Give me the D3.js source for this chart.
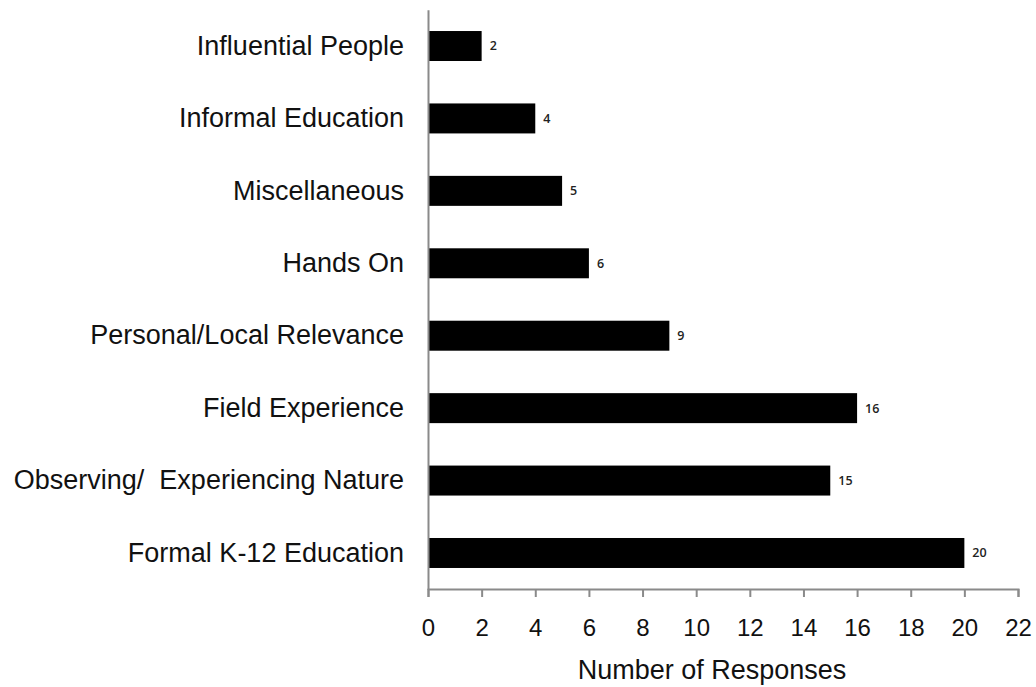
<!DOCTYPE html>
<html>
<head>
<meta charset="utf-8">
<script src="https://cdn.jsdelivr.net/npm/d3@7"></script>
<style>
  body { margin: 0; background: #fff; }
  .catLabel { font-family: "Liberation Sans", Arial, sans-serif; font-size: 27px; fill: #111; white-space: pre; }
  .tickLabel { font-family: "Liberation Sans", Arial, sans-serif; font-size: 24px; fill: #111; }
  .valLabel { font-family: "Open Sans", sans-serif; font-size: 12.5px; font-weight: 600; fill: #222; }
</style>
</head>
<body>
<script>
var categories = [
  "Influential People",
  "Informal Education",
  "Miscellaneous",
  "Hands On",
  "Personal/Local Relevance",
  "Field Experience",
  "Observing/  Experiencing Nature",
  "Formal K-12 Education",
];
var responses = [2, 4, 5, 6, 9, 16, 15, 20];
var xTicks = [0, 2, 4, 6, 8, 10, 12, 14, 16, 18, 20, 22];
var xTitle = "Number of Responses";

var width = 1036,
  height = 687;

var svg = d3
  .select("body")
  .append("svg")
  .attr("width", width)
  .attr("height", height);

var x = d3.scaleLinear().domain([0, 22]).range([428, 1018]);

var y = d3
  .scaleBand()
  .domain(categories)
  .range([9.8, 589.2])
  .paddingInner(0.586)
  .paddingOuter(0.293);

// bars
svg
  .selectAll(".bar")
  .data(categories)
  .enter()
  .append("rect")
  .attr("class", "bar")
  .attr("x", x(0))
  .attr("y", (d) => y(d))
  .attr("width", (d, i) => x(responses[i]) - x(0))
  .attr("height", y.bandwidth())
  .attr("fill", "#000");

// value labels
svg
  .selectAll(".valLabel")
  .data(categories)
  .enter()
  .append("text")
  .attr("class", "valLabel")
  .attr("x", (d, i) => x(responses[i]) + 8)
  .attr("y", (d) => y(d) + y.bandwidth() / 2)
  .attr("dy", "0.35em")
  .text((d, i) => responses[i]);

// bottom axis
var xAxis = d3
  .axisBottom(x)
  .tickValues(xTicks)
  .tickSize(8)
  .tickSizeOuter(8)
  .tickPadding(22);

var gx = svg
  .append("g")
  .attr("transform", "translate(0," + 589 + ")")
  .call(xAxis);
gx.selectAll("path, line").attr("stroke", "#8a8a8a").attr("stroke-width", 2);
gx.selectAll("text")
  .attr("class", "tickLabel")
  .attr("font-size", null)
  .attr("font-family", null)
  .attr("fill", null);

// left axis
var yAxis = d3.axisLeft(y).tickSize(0).tickSizeOuter(0).tickPadding(24);
var gy = svg
  .append("g")
  .attr("transform", "translate(" + 428 + ",0)")
  .call(yAxis);
gy.select(".domain").attr("stroke", "#8a8a8a").attr("stroke-width", 2);
gy.selectAll("text")
  .attr("class", "catLabel")
  .attr("font-size", null)
  .attr("font-family", null)
  .attr("fill", null);

// axis title
svg
  .append("text")
  .attr("class", "catLabel")
  .attr("x", 712)
  .attr("y", 679)
  .attr("text-anchor", "middle")
  .text(xTitle);
</script>
</body>
</html>
